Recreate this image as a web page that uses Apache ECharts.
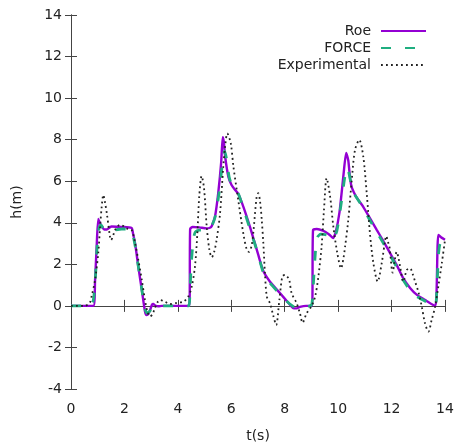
<!DOCTYPE html>
<html>
<head>
<meta charset="utf-8">
<script src="https://cdn.jsdelivr.net/npm/echarts@6/dist/echarts.min.js"></script>
<style>html,body{margin:0;padding:0;background:#fff;}#c{width:455px;height:443px;}</style>
</head>
<body>
<div id="c"></div>
<script>
var xTicks = [0, 2, 4, 6, 8, 10, 12, 14];
var yTicks = [-4, -2, 0, 2, 4, 6, 8, 10, 12, 14];
var seriesNames = ['Roe', 'FORCE', 'Experimental'];

var roeData = [[0,0],[0.84,0],[0.9,1.2],[0.96,2.85],[1.02,4.18],[1.08,4.0],[1.15,3.82],[1.25,3.68],[1.34,3.68],[1.45,3.78],[1.52,3.82],[1.9,3.8],[2.27,3.75],[2.32,3.5],[2.4,3.0],[2.52,1.89],[2.65,0.77],[2.77,-0.27],[2.83,-0.44],[2.9,-0.38],[2.96,-0.2],[3.03,0.05],[3.08,0.09],[3.15,0.02],[3.27,-0.02],[3.4,0],[4.43,0],[4.46,3.7],[4.55,3.8],[4.8,3.78],[5.08,3.73],[5.2,3.76],[5.27,3.85],[5.39,4.3],[5.51,5.42],[5.62,6.88],[5.68,8.12],[5.72,7.9],[5.77,7.19],[5.89,6.22],[6.01,5.82],[6.13,5.6],[6.26,5.4],[6.45,4.78],[6.7,3.8],[7.0,2.5],[7.19,1.7],[7.45,1.16],[7.82,0.62],[8.1,0.2],[8.31,-0.1],[8.45,-0.12],[8.57,-0.05],[8.8,0.0],[9.02,0],[9.06,3.65],[9.2,3.7],[9.43,3.62],[9.65,3.45],[9.81,3.27],[9.9,3.5],[10.05,4.5],[10.2,6.3],[10.3,7.36],[10.38,7.0],[10.45,6.1],[10.52,5.67],[10.7,5.2],[10.94,4.77],[11.2,4.2],[11.45,3.65],[11.7,3.1],[11.94,2.55],[12.2,1.95],[12.43,1.35],[12.7,0.85],[12.95,0.53],[13.3,0.25],[13.63,0],[13.68,0.5],[13.72,2.8],[13.75,3.42],[13.85,3.3],[14,3.18]];

var forceData = [[0,0],[0.75,0],[0.85,0.4],[0.92,1.5],[0.98,2.9],[1.05,3.75],[1.12,3.9],[1.2,3.75],[1.35,3.6],[1.6,3.65],[1.9,3.7],[2.2,3.7],[2.3,3.5],[2.4,2.9],[2.52,1.9],[2.65,0.8],[2.77,-0.15],[2.85,-0.35],[2.95,-0.25],[3.05,-0.05],[3.2,0],[4.4,0],[4.45,0.6],[4.5,2.0],[4.58,3.2],[4.65,3.55],[4.8,3.65],[5.1,3.65],[5.25,3.8],[5.4,4.3],[5.55,5.5],[5.68,7.0],[5.75,7.45],[5.82,7.1],[5.92,6.2],[6.05,5.7],[6.26,5.4],[6.45,4.7],[6.7,3.7],[7.0,2.5],[7.2,1.6],[7.45,1.1],[7.8,0.6],[8.1,0.2],[8.35,-0.05],[8.6,-0.08],[8.95,0],[9.02,0.1],[9.08,1.2],[9.15,2.6],[9.22,3.3],[9.35,3.45],[9.6,3.4],[9.8,3.2],[9.95,3.6],[10.1,4.8],[10.25,6.2],[10.35,6.65],[10.45,6.1],[10.55,5.5],[10.75,5.1],[10.94,4.7],[11.2,4.1],[11.45,3.55],[11.7,3.0],[11.94,2.45],[12.2,1.85],[12.43,1.25],[12.7,0.75],[12.95,0.45],[13.3,0.2],[13.63,0],[13.7,1.0],[13.76,2.5],[13.82,3.0],[13.9,2.95],[14,2.85]];

var expData = [[0,0],[0.5,0],[0.7,0.15],[0.77,0.45],[0.9,1.25],[1.02,2.53],[1.09,3.82],[1.15,4.78],[1.21,5.34],[1.27,5.0],[1.34,4.46],[1.46,3.33],[1.5,3.17],[1.57,3.35],[1.65,3.65],[1.83,3.9],[1.95,3.85],[2.08,3.73],[2.27,3.65],[2.4,3.01],[2.52,2.21],[2.65,1.25],[2.77,0.28],[2.86,-0.27],[2.96,-0.51],[3.05,-0.4],[3.14,-0.11],[3.25,0.2],[3.33,0.28],[3.52,0.2],[3.71,0.09],[3.96,0.15],[4.2,0.2],[4.39,0.45],[4.52,0.93],[4.64,1.89],[4.73,3.49],[4.8,5.26],[4.89,6.25],[4.98,5.66],[5.08,3.82],[5.18,2.7],[5.27,2.34],[5.36,2.6],[5.45,3.17],[5.58,4.46],[5.7,6.7],[5.78,7.8],[5.85,8.3],[5.98,7.83],[6.08,6.7],[6.26,5.1],[6.45,3.49],[6.58,2.7],[6.66,2.6],[6.76,2.9],[6.83,3.6],[6.95,5.26],[7.01,5.42],[7.08,5.0],[7.14,4.14],[7.2,3.01],[7.26,1.57],[7.33,0.45],[7.45,0.12],[7.58,-0.51],[7.68,-0.92],[7.8,0.28],[7.91,1.41],[8.01,1.49],[8.1,1.4],[8.17,1.25],[8.26,0.61],[8.45,0.12],[8.57,-0.36],[8.67,-0.81],[8.82,-0.36],[9.01,0],[9.14,0.45],[9.26,1.41],[9.38,2.85],[9.47,4.62],[9.57,6.14],[9.7,5.26],[9.82,3.82],[9.97,2.53],[10.11,1.81],[10.2,2.3],[10.26,2.85],[10.38,4.14],[10.51,6.06],[10.63,7.5],[10.79,7.99],[10.94,7.19],[11.07,5.42],[11.19,3.49],[11.32,2.05],[11.48,1.17],[11.63,2.05],[11.76,3.17],[11.8,3.36],[11.86,3.1],[11.92,2.85],[12.04,1.6],[12.12,2.2],[12.19,2.6],[12.26,2.3],[12.32,1.89],[12.44,1.17],[12.57,1.73],[12.69,1.81],[12.8,1.5],[12.88,1.17],[13.0,0.69],[13.13,-0.03],[13.25,-0.83],[13.38,-1.24],[13.5,-0.68],[13.63,-0.03],[13.75,0.93],[13.88,2.05],[14,3.17]];

var FONT = 'DejaVu Sans';
var TXT = '#222';
var AX = '#444';

function mkLegend(name, top) {
  return {
    data: [name], right: 28, top: top, orient: 'vertical', align: 'right',
    itemWidth: 45, itemHeight: 14, padding: 0,
    itemStyle: { opacity: 0, borderWidth: 0 },
    textStyle: { fontFamily: FONT, fontSize: 14, color: TXT, padding: [0, 5, 0, 0] },
    selectedMode: false
  };
}

var chart = echarts.init(document.getElementById('c'), null, { renderer: 'canvas' });
chart.setOption({
  animation: false,
  backgroundColor: '#fff',
  grid: { left: 71, right: 10, top: 15, bottom: 54, containLabel: false, outerBoundsMode: 'none' },
  legend: [mkLegend(seriesNames[0], 24), mkLegend(seriesNames[1], 41), mkLegend(seriesNames[2], 58)],
  xAxis: [{
    type: 'value', min: xTicks[0], max: xTicks[xTicks.length - 1], interval: 2,
    name: 't(s)', nameLocation: 'middle', nameGap: 40,
    nameTextStyle: { fontFamily: FONT, fontSize: 14, color: TXT },
    axisLine: { show: true, lineStyle: { color: AX, width: 1 } },
    axisTick: { show: true, inside: true, length: 6, lineStyle: { color: AX } },
    axisLabel: { fontFamily: FONT, fontSize: 14, color: TXT, margin: 13 },
    splitLine: { show: false }
  }, {
    type: 'value', position: 'top', min: xTicks[0], max: xTicks[xTicks.length - 1], interval: 2,
    axisLine: { show: true, lineStyle: { color: AX, width: 1 } },
    axisTick: { show: true, inside: true, length: 6, lineStyle: { color: AX } },
    axisLabel: { show: false }, splitLine: { show: false }
  }],
  yAxis: [{
    type: 'value', min: yTicks[0], max: yTicks[yTicks.length - 1], interval: 2,
    name: 'h(m)', nameLocation: 'middle', nameGap: 47,
    nameTextStyle: { fontFamily: FONT, fontSize: 14, color: TXT },
    axisLine: { show: true, lineStyle: { color: AX, width: 1 } },
    axisTick: { show: true, inside: true, length: 6, lineStyle: { color: AX } },
    axisLabel: { fontFamily: FONT, fontSize: 14, color: TXT, margin: 9 },
    splitLine: { show: false }
  }, {
    type: 'value', position: 'right', min: yTicks[0], max: yTicks[yTicks.length - 1], interval: 2,
    axisLine: { show: true, lineStyle: { color: AX, width: 1 } },
    axisTick: { show: true, inside: true, length: 6, lineStyle: { color: AX } },
    axisLabel: { show: false }, splitLine: { show: false }
  }],
  series: [{
    name: seriesNames[0], type: 'line', data: roeData, symbol: 'none', smooth: 0.2,
    lineStyle: { color: '#9400d3', width: 2.4 }, itemStyle: { color: '#9400d3' }
  }, {
    name: seriesNames[1], type: 'line', data: forceData, symbol: 'none', smooth: 0.2,
    lineStyle: { color: '#1fae80', width: 2.8, type: [10, 14] }, itemStyle: { color: '#1fae80' }
  }, {
    name: seriesNames[2], type: 'line', data: expData, symbol: 'none', smooth: 0.3,
    lineStyle: { color: '#222', width: 1.8, type: [1.8, 3.2] }, itemStyle: { color: '#222' }
  }]
});
</script>
</body>
</html>
